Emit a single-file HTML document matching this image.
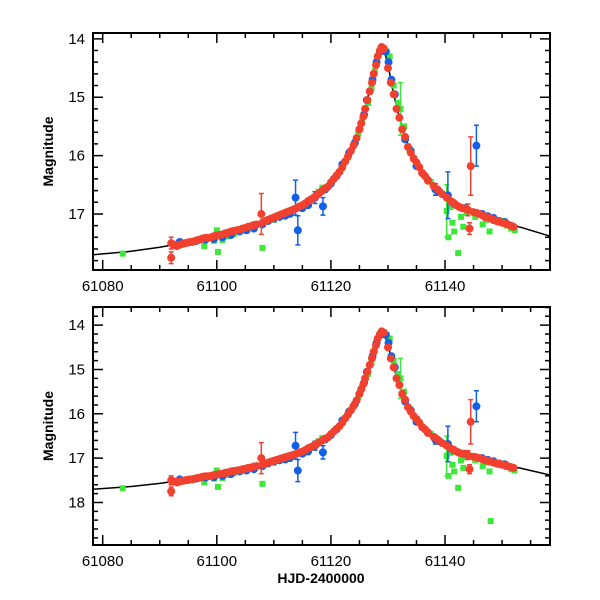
<!DOCTYPE html>
<html><head><meta charset="utf-8"><style>
html,body{margin:0;padding:0;background:#fff}
svg{display:block}
text{font-family:"Liberation Sans",sans-serif;fill:#000}
</style></head><body>
<svg id="chart" width="600" height="600" viewBox="0 0 600 600"></svg>
<script>
// Model curve readings [time, mag]
const modelT = [61078.3,61085,61090,61095,61100,61105,61110,61114,61118,61120,61122,61124,61125,61126,61127,61128,61128.8,61129.5,61130,61131,61132,61133,61134,61136,61138,61140,61143,61146,61150,61153,61158.4];
const modelM = [17.70,17.64,17.57,17.48,17.38,17.24,17.07,16.90,16.65,16.47,16.20,15.82,15.55,15.20,14.78,14.35,14.15,14.25,14.45,14.95,15.35,15.68,15.95,16.30,16.55,16.72,16.90,17.02,17.15,17.22,17.38];

// Red series
const redT = [61092.0,61092.0,61092.3,61092.7,61093,61093.4,61093.7,61094.1,61094.5,61094.9,61095.3,61095.7,61096,61096.5,61097,61097.5,61098,61098.5,61099,61099.5,61100,61100.5,61101,61101.5,61102,61102.5,61103,61103.5,61104,61104.5,61105,61105.5,61106,61106.5,61107,61107.8,61108,61108.5,61109,61109.5,61110,61110.5,61111,61111.5,61112,61112.5,61113,61113.5,61114,61114.5,61115,61115.5,61116,61116.5,61117,61117.5,61118,61118.5,61119,61119.5,61120,61120.5,61121,61121.5,61122,61122.5,61123,61123.5,61124,61124.5,61125,61125.3,61125.7,61126,61126.4,61126.8,61127.2,61127.5,61127.9,61128.2,61128.6,61128.9,61129.3,61130,61130.5,61131,61131.5,61132,61132.5,61133,61133.5,61134,61134.5,61135,61135.5,61136,61136.5,61137,61138,61138.7,61139.5,61140.3,61141,61141.5,61142,61142.5,61143,61143.5,61144,61144.5,61144.3,61145,61145.5,61146,61146.5,61147,61147.5,61148,61148.5,61149,61149.5,61150,61150.5,61151,61151.5,61152];
const redM = [17.50,17.75,17.52,17.53,17.55,17.53,17.52,17.51,17.50,17.49,17.48,17.48,17.47,17.45,17.44,17.42,17.41,17.41,17.40,17.38,17.37,17.36,17.35,17.33,17.32,17.30,17.29,17.28,17.27,17.25,17.24,17.22,17.21,17.19,17.18,17.00,17.15,17.12,17.10,17.08,17.06,17.04,17.02,17.00,16.98,16.96,16.94,16.92,16.90,16.87,16.85,16.82,16.78,16.75,16.72,16.68,16.64,16.60,16.56,16.53,16.46,16.40,16.34,16.28,16.20,16.10,16.01,15.92,15.82,15.70,15.55,15.45,15.33,15.20,15.05,14.90,14.75,14.60,14.45,14.30,14.20,14.14,14.17,14.50,14.75,14.95,15.20,15.35,15.55,15.68,15.85,15.95,16.05,16.12,16.20,16.30,16.35,16.43,16.52,16.58,16.66,16.72,16.78,16.81,16.85,16.88,16.90,16.91,16.93,16.18,17.25,16.97,16.98,17.00,17.02,17.05,17.06,17.08,17.10,17.12,17.13,17.15,17.16,17.18,17.20,17.22];
const redE = [0.1,0.1,0.05,0,0,0,0,0,0,0,0,0,0,0,0,0,0,0,0,0,0,0,0,0,0,0,0,0,0,0,0,0,0,0,0,0.35,0,0,0,0,0,0,0,0,0,0,0,0,0,0,0,0,0,0,0,0,0,0,0,0,0,0,0,0,0,0,0,0,0,0,0,0,0,0,0,0,0,0,0,0,0,0,0,0,0,0,0,0,0,0,0,0,0,0,0,0,0,0,0,0,0,0,0,0,0,0,0,0,0.1,0.5,0.1,0,0,0,0,0,0,0,0,0,0,0,0,0,0,0];

// Blue series
const blueT = [61093.5,61095,61096.5,61098,61099.5,61101,61102.5,61104,61105.2,61106.5,61108,61109,61110,61111,61112,61112.8,61113.8,61114.2,61115,61116,61117.2,61118.6,61119,61120,61121,61122,61123.2,61124.2,61125,61125.8,61126.3,61127.3,61128,61128.6,61129.6,61130.1,61130.6,61131.2,61133,61134,61135,61136,61137,61138.3,61139,61140.5,61141.5,61142.5,61143.5,61145.5,61146.5,61147.5,61148.5,61149.5,61150.5];
const blueM = [17.48,17.49,17.46,17.44,17.43,17.40,17.36,17.30,17.28,17.25,17.18,17.12,17.08,17.05,17.03,17.00,16.72,17.28,16.90,16.85,16.72,16.87,16.58,16.48,16.35,16.15,15.95,15.78,15.55,15.30,15.05,14.70,14.40,14.22,14.22,14.40,14.70,14.95,15.72,15.92,16.18,16.30,16.42,16.58,16.62,16.68,16.82,16.88,16.90,15.83,17.00,17.04,17.07,17.12,17.14];
const blueE = [0,0,0,0,0,0,0,0,0,0,0,0,0,0,0,0,0.3,0.25,0,0,0.1,0.15,0,0,0,0,0,0,0,0,0,0,0,0,0,0,0,0,0,0,0,0,0,0.1,0,0.4,0,0,0,0.35,0,0,0,0,0];

// Green series
const greenT = [61083.5,61094,61095.5,61097.8,61099.5,61100,61100.2,61101,61102,61103,61104.5,61105.5,61107,61108,61109,61110,61111,61112,61113,61114.5,61116,61117.8,61118.5,61119,61120,61121,61122.2,61123,61123.8,61124.8,61125.5,61126.5,61127.1,61127.7,61128.4,61129.3,61129.8,61130.3,61131,61131.8,61132.2,61132.8,61133.8,61135,61136,61137.5,61139,61140.3,61140.6,61141,61141.3,61141.6,61142.3,61142.8,61143.2,61143.8,61144.5,61145.3,61146,61146.6,61147.2,61147.8,61148,61148.6,61149.5,61150.2,61150.8,61151.6,61152.2];
const greenM = [17.68,17.50,17.48,17.55,17.46,17.28,17.65,17.45,17.38,17.34,17.28,17.22,17.18,17.58,17.12,17.10,17.04,16.98,16.95,16.90,16.78,16.62,16.55,16.58,16.48,16.35,16.15,16.03,15.85,15.62,15.40,15.10,14.85,14.55,14.25,14.18,14.22,14.30,14.80,15.10,15.20,15.50,15.90,16.12,16.30,16.45,16.62,16.95,17.40,16.88,17.15,17.30,17.67,17.05,17.22,16.98,16.95,17.05,17.00,17.18,17.10,17.30,18.42,17.12,17.15,17.12,17.20,17.25,17.28];
const greenE = [0,0,0,0,0,0,0,0,0,0,0,0,0,0,0,0,0,0,0,0,0,0,0,0,0,0,0,0,0,0,0,0,0,0,0,0,0,0,0,0,0.45,0,0,0,0,0,0,0.45,0,0,0,0,0,0,0,0,0,0,0,0,0,0,0,0,0,0,0,0,0];

const xTicks = [61080,61100,61120,61140];
const topYTicks = [14,15,16,17];
const botYTicks = [14,15,16,17,18];

const NS = "http://www.w3.org/2000/svg";
const svg = document.getElementById('chart');
function mk(tag, attrs, parent){const e=document.createElementNS(NS,tag);for(const k in attrs)e.setAttribute(k,attrs[k]);(parent||svg).appendChild(e);return e;}

const L=93,R=550,X0=61078.3,X1=61158.4;
const xS = t => L+(t-X0)/(X1-X0)*(R-L);

function panel(name, top, bottom, yTop, yBot, yTicks){
  const g = mk('g',{});
  
  
  const yS = m => top+(m-yTop)/(yBot-yTop)*(bottom-top);
  const cid = 'clip-'+name;
  const cp = mk('clipPath',{id:cid},g);
  mk('rect',{x:L,y:top,width:R-L,height:bottom-top},cp);
  const plot = mk('g',{'clip-path':'url(#'+cid+')'},g);
  let d='';
  for(let i=0;i<modelT.length;i++){d+=(i?'L':'M')+xS(modelT[i]).toFixed(1)+' '+yS(modelM[i]).toFixed(1);}
  const ml = mk('path',{d:d,fill:'none',stroke:'#000','stroke-width':1.5},plot);
  
  
  function series(T,M,E,color,sq,sname){
    const sg = mk('g',{},plot);
    
    
    for(let i=0;i<T.length;i++){
      const x=xS(T[i]), y=yS(M[i]);
      if(E[i]>0){
        const y1=yS(M[i]-E[i]), y2=yS(M[i]+E[i]);
        mk('path',{d:`M${x} ${y1}V${y2}M${x-2.5} ${y1}H${x+2.5}M${x-2.5} ${y2}H${x+2.5}`,stroke:color,'stroke-width':1.5,fill:'none'},sg);
      }
      let p;
      if(sq) p = mk('rect',{x:x-3,y:y-3,width:6,height:6,fill:color},sg);
      else p = mk('circle',{cx:x,cy:y,r:4,fill:color},sg);
      
      
    }
  }
  series(greenT,greenM,greenE,'#3ee83a',true,'green-series');
  series(blueT,blueM,blueE,'#1060e8',false,'blue-series');
  series(redT,redM,redE,'#f2402e',false,'red-series');
  const fr = mk('rect',{x:L,y:top,width:R-L,height:bottom-top,fill:'none',stroke:'#000','stroke-width':2},g);
  
  
  let td='';
  for(let t=61080;t<=61155;t+=5){
    const x=xS(t), len=(t%20===0)?10:5;
    td+=`M${x} ${bottom}v${-len}M${x} ${top}v${len}`;
  }
  for(let m=Math.ceil(yTop*5)/5;m<=yBot+1e-9;m+=0.2){
    const mm=Math.round(m*5)/5, y=yS(mm), len=(Math.abs(mm-Math.round(mm))<1e-6)?10:5;
    td+=`M${L} ${y}h${len}M${R} ${y}h${-len}`;
  }
  mk('path',{d:td,stroke:'#000','stroke-width':1.5,fill:'none'},g);
  xTicks.forEach(t=>{
    const tx=mk('text',{x:xS(t),y:bottom+21,'text-anchor':'middle','font-size':15},g);
    tx.textContent=t;
    
    
  });
  yTicks.forEach(m=>{
    const tx=mk('text',{x:L-8,y:yS(m)+5,'text-anchor':'end','font-size':15},g);
    tx.textContent=m;
    
    
  });
  const yt=mk('text',{x:0,y:0,transform:`translate(53,${(top+bottom)/2}) rotate(-90)`,'text-anchor':'middle','font-size':14,'font-weight':'bold'},g);
  yt.textContent='Magnitude';
  
  
}
panel('top-panel',33,270,13.9,17.96,topYTicks);
panel('bottom-panel',307,545,13.59,18.96,botYTicks);
const xt=mk('text',{x:321,y:583,'text-anchor':'middle','font-size':14,'font-weight':'bold'});
xt.textContent='HJD-2400000';


</script>
</body></html>
